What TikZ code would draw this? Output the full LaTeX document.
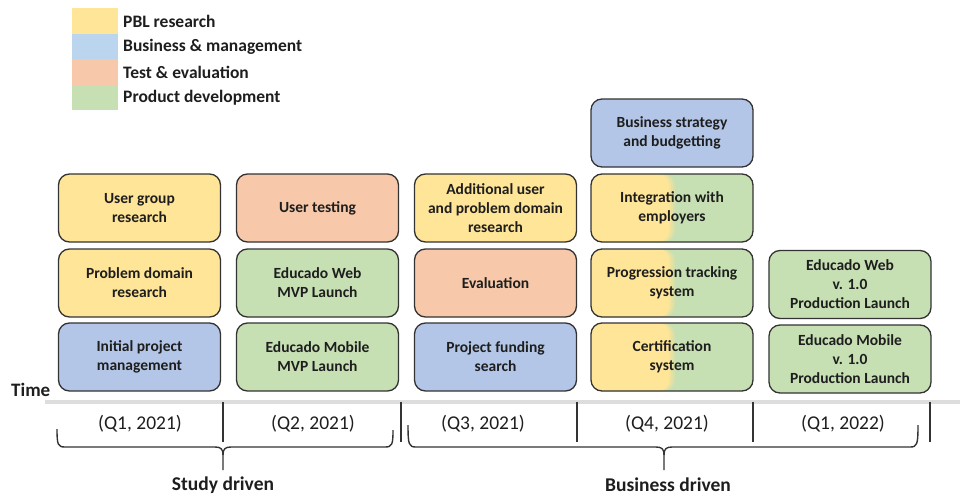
\documentclass[tikz,border=0pt]{standalone}
\usepackage{fontspec}
\setmainfont{Carlito}
\begin{document}
\definecolor{ylw}{HTML}{FFE597}
\definecolor{blu}{HTML}{B3C6E7}
\definecolor{sal}{HTML}{F7C8A9}
\definecolor{grn}{HTML}{C6E0B4}
\definecolor{lblu}{HTML}{BCD5EE}
\definecolor{edge}{HTML}{333333}
\definecolor{ink}{HTML}{1E1E1E}
\definecolor{axis}{HTML}{DDDDDD}
\newcommand{\boxfont}{\bfseries\fontsize{15.5}{19}\selectfont}
\tikzset{
  box/.style={draw=edge, line width=1.3pt, rounded corners=11pt,
    minimum width=162pt, minimum height=68pt, inner sep=2pt,
    align=center, font=\boxfont, text=ink},
  pbl/.style={box, fill=ylw},
  biz/.style={box, fill=blu},
  tst/.style={box, fill=sal},
  dev/.style={box, fill=grn},
  % half research, half development: layered fills give a soft seam
  mixed/.style={box, fill=grn, path picture={
    \fill[ylw!25!grn] (path picture bounding box.south west) rectangle ([xshift=3pt]path picture bounding box.north);
    \fill[ylw!50!grn] (path picture bounding box.south west) rectangle ([xshift=1pt]path picture bounding box.north);
    \fill[ylw!75!grn] (path picture bounding box.south west) rectangle ([xshift=-1pt]path picture bounding box.north);
    \fill[ylw] (path picture bounding box.south west) rectangle ([xshift=-3pt]path picture bounding box.north);
  }},
  swatch/.style={minimum width=46pt, minimum height=25.5pt, inner sep=0pt, outer sep=0pt},
  legtext/.style={anchor=west, font=\bfseries\fontsize{17.5}{19}\selectfont, text=ink, inner sep=0pt},
  quarter/.style={font=\fontsize{19.5}{21}\selectfont, text=ink},
  phase/.style={font=\bfseries\fontsize{19.5}{21}\selectfont, text=ink},
  tick/.style={draw=edge, line width=1.5pt},
  bracket/.style={draw=edge, line width=1.4pt, line join=round}
}
\begin{tikzpicture}[x=1pt, y=-1pt]
\useasboundingbox (0,0) rectangle (960,495);

% colour legend
\node[swatch, fill=ylw]  (sw1) at (95,21)   {};
\node[swatch, fill=lblu] (sw2) at (95,46.5) {};
\node[swatch, fill=sal]  (sw3) at (95,72)   {};
\node[swatch, fill=grn]  (sw4) at (95,97.5) {};
\node[legtext] (lg1) at (123,21)   {PBL research};
\node[legtext] (lg2) at (123,46.5) {Business \& management};
\node[legtext] (lg3) at (123,72)   {Test \& evaluation};
\node[legtext] (lg4) at (123,97.5) {Product development};

% Q1 2021
\node[pbl] (ugr) at (139.5,208) {User group\\research};
\node[pbl] (pdr) at (139.5,283) {Problem domain\\research};
\node[biz] (ipm) at (139.5,357) {Initial project\\management};
% Q2 2021
\node[tst] (ut)  at (317.5,208) {User testing};
\node[dev] (wmvp) at (317.5,283) {Educado Web\\MVP Launch};
\node[dev] (mmvp) at (317.5,357) {Educado Mobile\\MVP Launch};
% Q3 2021
\node[pbl] (aur) at (495.5,208) {Additional user\\and problem domain\\research};
\node[tst] (ev)  at (495.5,283) {Evaluation};
\node[biz] (pfs) at (495.5,357) {Project funding\\search};
% Q4 2021
\node[biz]   (bsb) at (672,133) {Business strategy\\and budgetting};
\node[mixed] (iwe) at (672,208) {Integration with\\employers};
\node[mixed] (pts) at (672,283) {Progression tracking\\system};
\node[mixed] (cs)  at (672,357) {Certification\\system};
% Q1 2022
\node[dev] (wpl) at (850,284.5) {Educado Web\\v. 1.0\\Production Launch};
\node[dev] (mpl) at (850,359)   {Educado Mobile\\v. 1.0\\Production Launch};

% time axis
\coordinate (ax0) at (45,402);
\coordinate (ax1) at (960,402);
\draw[axis, line width=4pt] (ax0) -- (ax1);
\node[font=\bfseries\fontsize{19}{20}\selectfont, text=ink, anchor=base west, inner sep=0pt] (time) at (11,396) {Time};

% quarter separators
\foreach \x/\n in {223/s1, 401/s2, 577/s3, 753/s4, 930/s5} {
  \coordinate (\n a) at (\x,402);
  \coordinate (\n b) at (\x,442);
  \draw[tick] (\n a) -- (\n b);
}

% quarter labels
\node[quarter] (q1) at (140,424) {(Q1, 2021)};
\node[quarter] (q2) at (313,424) {(Q2, 2021)};
\node[quarter] (q3) at (483,424) {(Q3, 2021)};
\node[quarter] (q4) at (667,424) {(Q4, 2021)};
\node[quarter] (q5) at (843,424) {(Q1, 2022)};

% study driven bracket
\coordinate (sl) at (57,429);
\coordinate (sr) at (393,430);
\coordinate (st) at (223,470);
\draw[bracket] (sl) .. controls (57,445) and (58,447) .. (65,447) -- (215,447)
  .. controls (221,447) and (223,449) .. (223,455) -- (st);
\draw[bracket] (223,455) .. controls (223,449) and (225,447) .. (231,447) -- (385,447)
  .. controls (392,447) and (393,445) .. (sr);
% business driven bracket
\coordinate (bl) at (408,425);
\coordinate (br) at (918,425);
\coordinate (bt) at (664,470);
\draw[bracket] (bl) .. controls (408,445) and (409,447) .. (416,447) -- (656,447)
  .. controls (662,447) and (664,449) .. (664,455) -- (bt);
\draw[bracket] (664,455) .. controls (664,449) and (666,447) .. (672,447) -- (910,447)
  .. controls (917,447) and (918,445) .. (br);

% phase labels
\node[phase] (study) at (223,485) {Study driven};
\node[phase] (business) at (668,485) {Business driven};
\end{tikzpicture}
\end{document}
